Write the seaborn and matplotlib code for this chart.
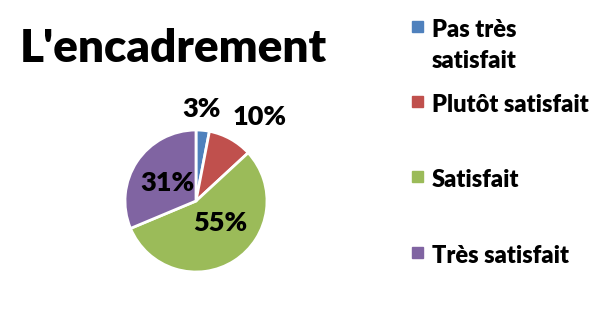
import matplotlib
matplotlib.use("Agg")
import numpy as np
import matplotlib.pyplot as plt
import seaborn as sns

# données
categories = ["Pas très\nsatisfait", "Plutôt satisfait", "Satisfait", "Très satisfait"]
valeurs = [3, 10, 55, 31]
couleurs = ["#4F81BD", "#C0504D", "#9BBB59", "#8064A2"]

sns.set_theme(style="white")
plt.rcParams["font.family"] = ["Lato", "DejaVu Sans"]

W, H = 614, 318
fig = plt.figure(figsize=(W / 100, H / 100), dpi=100)
fig.patch.set_facecolor("white")

# zone du camembert (carrée)
ax = fig.add_axes([125 / W, 46 / H, 142 / W, 142 / H])
wedges, _ = ax.pie(valeurs, colors=couleurs, startangle=90, counterclock=False,
                   radius=1, wedgeprops=dict(edgecolor="white", linewidth=2))
ax.set_xlim(-1, 1)
ax.set_ylim(-1, 1)
ax.set_aspect("equal")
ax.axis("off")

# étiquettes de pourcentage (placement type "ajustement optimal")
dist = [1.3, 1.48, 0.47, 0.48]
decalage = [2, -8, 15, 2]
for w, v, d, s in zip(wedges, valeurs, dist, decalage):
    ang = np.deg2rad((w.theta1 + w.theta2) / 2 + s)
    ax.text(d * np.cos(ang), d * np.sin(ang), f"{v}%", ha="center", va="center",
            fontsize=19.5, fontweight="heavy", color="black")

# titre
fig.text(20 / W, 1 - 62 / H, "L'encadrement", fontsize=33, fontweight="heavy",
         ha="left", va="baseline", color="black")

# légende
baselines = [37, 112, 187, 263]
for lab, c, b in zip(categories, couleurs, baselines):
    fig.patches.append(plt.Rectangle((412 / W, 1 - (b - 5) / H), 11 / W, 11 / H,
                                     transform=fig.transFigure, color=c))
    for i, ligne in enumerate(lab.split("\n")):
        fig.text(432 / W, 1 - (b + 31 * i) / H, ligne, fontsize=17, fontweight="heavy",
                 ha="left", va="baseline", color="black")

plt.savefig("out.png", dpi=100)
